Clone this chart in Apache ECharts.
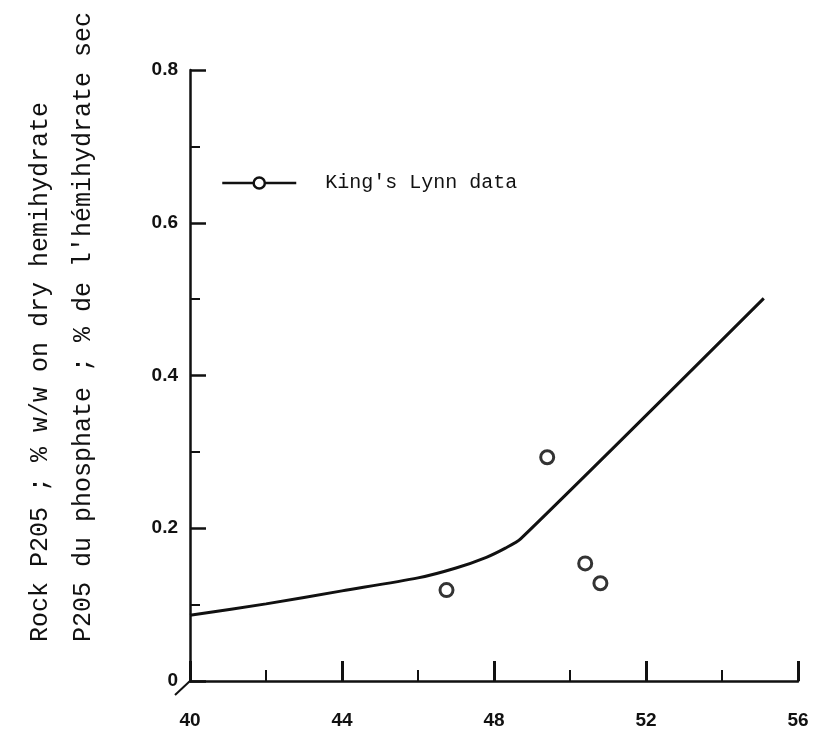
<!DOCTYPE html>
<html>
<head>
<meta charset="utf-8">
<script src="https://cdn.jsdelivr.net/npm/echarts@6/dist/echarts.min.js"></script>
<style>
  html, body { margin: 0; padding: 0; background: #fff; }
  #chart { width: 817px; height: 744px; }
</style>
</head>
<body>
<div id="chart"></div>
<script>
  // fitted curve
  var curveX = [40, 42, 44, 46, 47, 47.8, 48.3, 48.7, 55.1]
  var curveY = [0.086, 0.101, 0.118, 0.135, 0.148, 0.162, 0.174, 0.186, 0.501]
  // King's Lynn points
  var pointX = [46.75, 49.4, 50.4, 50.8]
  var pointY = [0.119, 0.293, 0.154, 0.128]
  var xTicks = [40, 44, 48, 52, 56]
  var yTicks = [0, 0.2, 0.4, 0.6, 0.8]
  var titleLine1 = 'Rock P205 ; % w/w on dry hemihydrate'
  var titleLine2 = "P205 du phosphate ; % de l'hémihydrate sec"
  var legendName = "King's Lynn data"

  var chart = echarts.init(document.getElementById('chart'))
  var mono = 'Liberation Mono'
  var ink = '#111'

  chart.setOption({
    backgroundColor: '#fff',
    animation: false,
    grid: { left: 190, right: 19, top: 70, bottom: 63 },
    legend: {
      data: [legendName],
      left: 216, top: 168,
      itemWidth: 74, itemHeight: 14,
      itemGap: 10,
      itemStyle: { color: '#fff', borderColor: ink, borderWidth: 2.5 },
      lineStyle: { color: ink, width: 2.5 },
      textStyle: { fontFamily: mono, fontSize: 20, color: ink, padding: [0, 0, 0, 24] }
    },
    xAxis: {
      type: 'value',
      min: xTicks[0], max: xTicks[xTicks.length - 1], interval: 4,
      axisLine: { lineStyle: { color: ink, width: 2.5 } },
      axisTick: { inside: true, length: 20, lineStyle: { color: ink, width: 3 } },
      minorTick: { show: true, splitNumber: 2, length: 11, lineStyle: { color: ink, width: 2 } },
      splitLine: { show: false },
      axisLabel: {
        margin: 30, color: ink, fontFamily: 'Liberation Sans', fontWeight: 'bold', fontSize: 19,
        customValues: xTicks
      }
    },
    yAxis: {
      type: 'value',
      min: yTicks[0], max: yTicks[yTicks.length - 1], interval: 0.2,
      axisLine: { lineStyle: { color: ink, width: 2.5 } },
      axisTick: { inside: true, length: 16, lineStyle: { color: ink, width: 2.5 } },
      minorTick: { show: true, splitNumber: 2, length: 10, lineStyle: { color: ink, width: 2 } },
      splitLine: { show: false },
      axisLabel: {
        margin: 12, color: ink, fontFamily: 'Liberation Sans', fontWeight: 'bold', fontSize: 19,
        formatter: function (v) { return v === 0 ? '0' : v.toFixed(1) }
      }
    },
    graphic: [
      { type: 'line', shape: { x1: 190, y1: 681, x2: 175, y2: 695 }, style: { stroke: ink, lineWidth: 2 } },
      {
        type: 'text', x: 40, y: 642, rotation: Math.PI / 2,
        style: { text: titleLine1, fontFamily: mono, fontSize: 25, fill: ink, align: 'left', verticalAlign: 'middle' }
      },
      {
        type: 'text', x: 83, y: 642, rotation: Math.PI / 2,
        style: { text: titleLine2, fontFamily: mono, fontSize: 25, fill: ink, align: 'left', verticalAlign: 'middle' }
      }
    ],
    series: [
      {
        name: legendName,
        type: 'line',
        data: curveX.map(function (x, i) { return [x, curveY[i]] }),
        smooth: 0.25,
        symbol: 'circle', symbolSize: 12, showSymbol: false,
        itemStyle: { color: '#fff', borderColor: ink, borderWidth: 2.5 },
        lineStyle: { color: ink, width: 3 }
      },
      {
        name: 'points',
        type: 'scatter',
        data: pointX.map(function (x, i) { return [x, pointY[i]] }),
        symbol: 'circle', symbolSize: 13,
        itemStyle: { color: '#fff', borderColor: '#000', borderWidth: 3 }
      }
    ]
  })
</script>
</body>
</html>
